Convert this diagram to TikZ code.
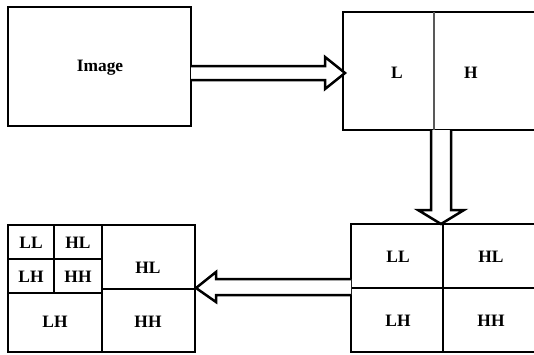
\documentclass[tikz,border=0pt]{standalone}
\usepackage{fontspec}
\setmainfont{Liberation Serif}
\usetikzlibrary{fit}
\begin{document}
\begin{tikzpicture}[x=0.5pt,y=-0.5pt,line width=1pt,
  box/.style={draw,inner sep=0pt,line width=1.25pt},
  lbl/.style={font=\fontsize{8.7}{10}\selectfont\bfseries,inner sep=0pt},
  divider/.style={line width=1.25pt},
  blockarrow/.style={draw,fill=white,line width=1.25pt,line join=miter}]
\useasboundingbox (0,0) rectangle (534,354);
\clip (0,0) rectangle (534,354);
% boxes
\node[box,fit={(8,7) (191,126)}] (img) {};
\node[lbl] (imgt) at (100,68) {Image};
\node[box,fit={(343,12) (560,130)}] (onel) {};
\draw[gray!70!black,line width=0.9pt] (434,12) coordinate (d1) -- (434,130) coordinate (d2);
\node[lbl] (tl) at (397,73) {L};
\node[lbl] (th) at (471,73) {H};
\node[box,fit={(351,224) (560,352)}] (two) {};
\draw[divider] (443,224) coordinate (d3) -- (443,352) coordinate (d4);
\draw[divider] (351,288) coordinate (d5) -- (560,288) coordinate (d6);
\node[lbl] (r1) at (398,257) {LL};
\node[lbl] (r2) at (491,257) {HL};
\node[lbl] (r3) at (398,321) {LH};
\node[lbl] (r4) at (491,321) {HH};
\node[box,fit={(8,225) (195,352)}] (three) {};
\draw[divider] (102,225) coordinate (e1) -- (102,352) coordinate (e2);
\draw[divider] (102,289) coordinate (e3) -- (195,289) coordinate (e4);
\draw[divider] (8,293) coordinate (e5) -- (102,293) coordinate (e6);
\draw[divider] (54,225) coordinate (e7) -- (54,293) coordinate (e8);
\draw[divider] (8,259) coordinate (e9) -- (102,259) coordinate (e10);
\node[lbl] (s1) at (31,243) {LL};
\node[lbl] (s2) at (78,243) {HL};
\node[lbl] (s3) at (31,277) {LH};
\node[lbl] (s4) at (78,277) {HH};
\node[lbl] (s5) at (148,268) {HL};
\node[lbl] (s6) at (55,322) {LH};
\node[lbl] (s7) at (148,322) {HH};
% block arrows
\draw[blockarrow] (191,66) -- (325,66) -- (325,57) -- (345,73) -- (325,89) -- (325,80) -- (191,80);
\draw[blockarrow] (431,130) -- (431,210) -- (418,210) -- (441,224) -- (464,210) -- (451,210) -- (451,130);
\draw[blockarrow] (351,279) -- (216,279) -- (216,272) -- (196,288) -- (216,302) -- (216,295) -- (351,295);
\end{tikzpicture}
\end{document}
